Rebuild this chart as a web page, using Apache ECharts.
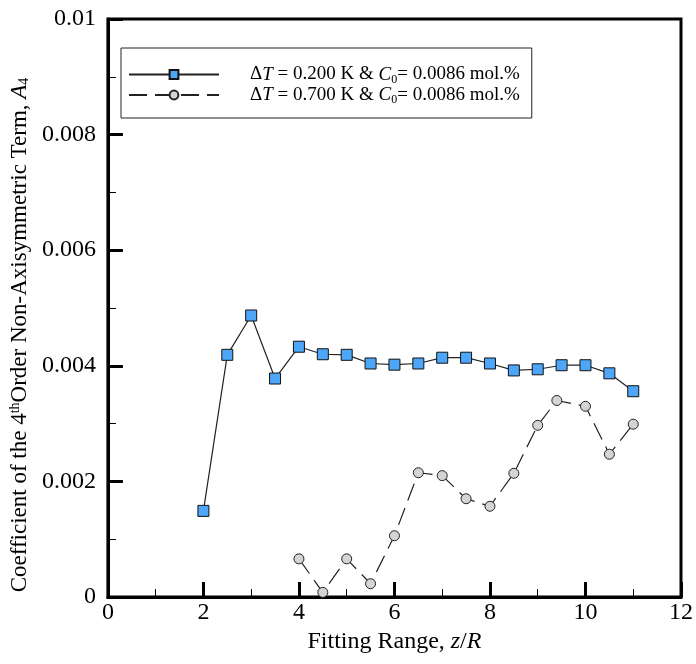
<!DOCTYPE html>
<html>
<head>
<meta charset="utf-8">
<script src="https://cdn.jsdelivr.net/npm/echarts@6/dist/echarts.min.js"></script>
<style>html,body{margin:0;padding:0;background:#fff}#c{width:696px;height:664px}</style>
</head>
<body>
<div id="c"></div>
<script>
var blueX = [2, 2.5, 3, 3.5, 4, 4.5, 5, 5.5, 6, 6.5, 7, 7.5, 8, 8.5, 9, 9.5, 10, 10.5, 11];
var blueY = [0.00149, 0.00419, 0.00487, 0.00378, 0.00433, 0.00420, 0.00419, 0.00404, 0.00402, 0.00404, 0.00414, 0.00414, 0.00404, 0.00392, 0.00394, 0.00401, 0.00401, 0.00387, 0.00356];
var grayX = [4, 4.5, 5, 5.5, 6, 6.5, 7, 7.5, 8, 8.5, 9, 9.4, 10, 10.5, 11];
var grayY = [0.00066, 0.00008, 0.00066, 0.00023, 0.00106, 0.00215, 0.00210, 0.00170, 0.00157, 0.00214, 0.00297, 0.00340, 0.00330, 0.00247, 0.00299];
var xTicks = [0, 2, 4, 6, 8, 10, 12];
var yTicks = [0, 0.002, 0.004, 0.006, 0.008, 0.01];
var seriesNames = ['s1', 's2'];
var deltaT = ['0.200', '0.700'];

function pairs(xs, ys) { return xs.map(function (x, i) { return [x, ys[i]]; }); }

var FONT = "'Liberation Serif', 'Times New Roman', serif";
var chart = echarts.init(document.getElementById('c'));
var legendRich = {
  i: { fontStyle: 'italic', fontFamily: FONT, fontSize: 19, color: '#000' },
  sub: { fontFamily: FONT, fontSize: 12, color: '#000', padding: [10, 0, 0, 0] },
  n: { fontFamily: FONT, fontSize: 19, color: '#000' }
};
chart.setOption({
  animation: false,
  backgroundColor: '#fff',
  grid: { left: 107, right: 12, top: 19, bottom: 67, show: true, borderColor: '#000', borderWidth: 3, backgroundColor: 'transparent' },
  legend: {
    left: 121, top: 48,
    orient: 'vertical',
    itemWidth: 90, itemHeight: 11, itemGap: 0,
    padding: [17, 12, 12, 7],
    borderColor: '#222', borderWidth: 1,
    backgroundColor: '#fff',
    data: seriesNames,
    formatter: function (name) {
      var v = deltaT[seriesNames.indexOf(name)];
      return '{n|\u0394}{i|T}{n| = ' + v + ' K & }{i|C}{sub|0}{n|= 0.0086 mol.%}';
    },
    textStyle: { fontFamily: FONT, fontSize: 19, color: '#000', padding: [0, 0, 0, 26], rich: legendRich }
  },
  xAxis: {
    type: 'value', min: 0, max: 12, interval: 2,
    name: '{n|Fitting Range, }{i|z}{n|/}{i|R}',
    nameLocation: 'middle', nameGap: 29,
    nameTextStyle: { rich: {
      n: { fontFamily: FONT, fontSize: 24, color: '#000' },
      i: { fontFamily: FONT, fontSize: 24, color: '#000', fontStyle: 'italic' } } },
    axisLine: { show: true, lineStyle: { color: '#000', width: 3 } },
    axisTick: { show: true, inside: true, length: 15, lineStyle: { color: '#000', width: 3 } },
    minorTick: { show: true, splitNumber: 2, length: 8, lineStyle: { color: '#000', width: 1 } },
    splitLine: { show: false },
    axisLabel: { fontFamily: FONT, fontSize: 24, color: '#000', margin: 4 }
  },
  yAxis: {
    type: 'value', min: 0, max: 0.01, interval: 0.002,
    name: '{n|Coefficient of the 4}{sup|th}{n|Order Non-Axisymmetric Term, }{i|A}{sub|4}',
    nameLocation: 'middle', nameGap: 73, nameRotate: 90,
    nameTextStyle: { padding: [0, 54, 0, 0], rich: {
      n: { fontFamily: FONT, fontSize: 23, color: '#000' },
      i: { fontFamily: FONT, fontSize: 23, color: '#000', fontStyle: 'italic' },
      sup: { fontFamily: FONT, fontSize: 14, color: '#000', padding: [0, 0, 9, 0] },
      sub: { fontFamily: FONT, fontSize: 14, color: '#000', padding: [9, 0, 0, 0] } } },
    axisLine: { show: true, lineStyle: { color: '#000', width: 3 } },
    axisTick: { show: true, inside: true, length: 15, lineStyle: { color: '#000', width: 3 } },
    minorTick: { show: true, splitNumber: 2, length: 8, lineStyle: { color: '#000', width: 1 } },
    splitLine: { show: false },
    axisLabel: { fontFamily: FONT, fontSize: 24, color: '#000', margin: 12,
      formatter: function (v) { return String(+v.toFixed(4)); } }
  },
  series: [
    {
      name: 's1', type: 'line', data: pairs(blueX, blueY),
      symbol: 'rect', symbolSize: 11,
      itemStyle: { color: '#4da6f7', borderColor: '#111', borderWidth: 1 },
      lineStyle: { color: '#222', width: 1.2 }
    },
    {
      name: 's2', type: 'line', data: pairs(grayX, grayY),
      symbol: 'circle', symbolSize: 10,
      itemStyle: { color: '#d4d4d4', borderColor: '#222', borderWidth: 1 },
      lineStyle: { color: '#222', width: 1.2, type: [18, 8] }
    }
  ]
});
</script>
</body>
</html>
